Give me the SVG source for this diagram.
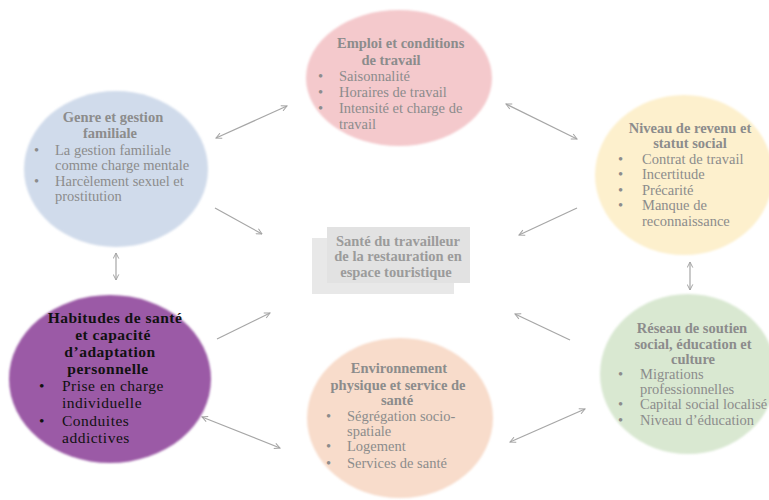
<svg xmlns="http://www.w3.org/2000/svg" width="769" height="500" viewBox="0 0 769 500">
<defs>
<marker id="ah" viewBox="0 0 10 10" refX="9" refY="5" markerWidth="7" markerHeight="7" markerUnits="userSpaceOnUse" orient="auto-start-reverse">
<path d="M1,1 L9,5 L1,9" fill="none" stroke="#a3a3a3" stroke-width="1.4"/>
</marker>
<filter id="soft" x="-10%" y="-10%" width="120%" height="120%"><feGaussianBlur stdDeviation="0.8"/></filter>
</defs>
<style>
.t{font-family:"Liberation Serif","Times New Roman",serif;font-size:14.5px;fill:#8c8c8c}
.h{font-weight:bold}
.p{font-family:"Liberation Serif","Times New Roman",serif;font-size:15.5px;letter-spacing:0.5px;fill:#111}
.c{font-family:"Liberation Serif","Times New Roman",serif;font-size:14.5px;font-weight:bold;fill:#9b9b9b}
.m{text-anchor:middle}
.ln{stroke:#a6a6a6;stroke-width:1.2;fill:none;marker-start:url(#ah);marker-end:url(#ah)}
.one{stroke:#a6a6a6;stroke-width:1.2;fill:none;marker-end:url(#ah)}
</style>
<rect width="769" height="500" fill="#fff"/>

<g id="connectors">
<line class="ln" x1="216" y1="138" x2="287" y2="106"/>
<line class="one" x1="215" y1="208" x2="262" y2="234"/>
<line class="one" x1="217" y1="339" x2="270" y2="313"/>
<line class="ln" x1="506" y1="104" x2="577" y2="139"/>
<line class="one" x1="577" y1="208" x2="519" y2="235"/>
<line class="one" x1="570" y1="340" x2="515" y2="314"/>
<line class="ln" x1="202" y1="417" x2="280" y2="448"/>
<line class="ln" x1="510" y1="442" x2="585" y2="409"/>
<line class="ln" x1="116" y1="253" x2="116" y2="280"/>
<line class="ln" x1="690" y1="262" x2="690" y2="290"/>
</g>

<g id="emploi">
<ellipse cx="399" cy="78" rx="93" ry="68" fill="#f4c9cc" filter="url(#soft)"/>
<text class="t h" x="337" y="48">Emploi et conditions</text>
<text class="t h m" x="391" y="65">de travail</text>
<text class="t" x="318" y="81">•</text><text class="t" x="339" y="81">Saisonnalité</text>
<text class="t" x="318" y="97">•</text><text class="t" x="339" y="97">Horaires de travail</text>
<text class="t" x="318" y="113">•</text><text class="t" x="339" y="113">Intensité et charge de</text>
<text class="t" x="339" y="129">travail</text>
</g>

<g id="genre">
<ellipse cx="116" cy="169" rx="92" ry="78" fill="#d0dbeb" filter="url(#soft)"/>
<text class="t h m" x="113" y="122">Genre et gestion</text>
<text class="t h m" x="110" y="138">familiale</text>
<text class="t" x="34" y="155">•</text><text class="t" x="55" y="155">La gestion familiale</text>
<text class="t" x="55" y="170">comme charge mentale</text>
<text class="t" x="34" y="186">•</text><text class="t" x="55" y="186">Harcèlement sexuel et</text>
<text class="t" x="55" y="201">prostitution</text>
</g>

<g id="niveau">
<ellipse cx="684" cy="175" rx="89" ry="80" fill="#fdf0cd" filter="url(#soft)"/>
<text class="t h m" x="690" y="133">Niveau de revenu et</text>
<text class="t h m" x="690" y="148">statut social</text>
<text class="t" x="618" y="164">•</text><text class="t" x="642" y="164">Contrat de travail</text>
<text class="t" x="618" y="179">•</text><text class="t" x="642" y="179">Incertitude</text>
<text class="t" x="618" y="195">•</text><text class="t" x="642" y="195">Précarité</text>
<text class="t" x="618" y="210">•</text><text class="t" x="642" y="210">Manque de</text>
<text class="t" x="642" y="226">reconnaissance</text>
</g>

<g id="centre">
<rect x="312" y="238" width="142" height="56" fill="#e8e8e8"/>
<rect x="327" y="227" width="143" height="56" fill="#e2e2e2"/>
<text class="c m" x="398" y="246">Santé du travailleur</text>
<text class="c m" x="398" y="261">de la restauration en</text>
<text class="c m" x="396" y="277">espace touristique</text>
</g>

<g id="habitudes">
<ellipse cx="110" cy="379" rx="101" ry="84" fill="#9b5aa6" filter="url(#soft)"/>
<text class="p h m" x="115" y="323">Habitudes de santé</text>
<text class="p h m" x="113" y="340">et capacité</text>
<text class="p h m" x="110" y="357">d’adaptation</text>
<text class="p h m" x="108" y="374">personnelle</text>
<text class="p" x="39" y="391">•</text><text class="p" x="62" y="391">Prise en charge</text>
<text class="p" x="62" y="408">individuelle</text>
<text class="p" x="39" y="426">•</text><text class="p" x="62" y="426">Conduites</text>
<text class="p" x="62" y="443">addictives</text>
</g>

<g id="environnement">
<ellipse cx="400" cy="418" rx="93" ry="80" fill="#f8dccb" filter="url(#soft)"/>
<text class="t h m" x="399" y="373">Environnement</text>
<text class="t h m" x="398" y="390">physique et service de</text>
<text class="t h m" x="397" y="405">santé</text>
<text class="t" x="326" y="421">•</text><text class="t" x="347" y="421">Ségrégation socio-</text>
<text class="t" x="347" y="436">spatiale</text>
<text class="t" x="326" y="451">•</text><text class="t" x="347" y="451">Logement</text>
<text class="t" x="326" y="468">•</text><text class="t" x="347" y="468">Services de santé</text>
</g>

<g id="reseau">
<ellipse cx="688" cy="374" rx="88" ry="80" fill="#d9e8d1" filter="url(#soft)"/>
<text class="t h m" x="692" y="333">Réseau de soutien</text>
<text class="t h m" x="693" y="349">social, éducation et</text>
<text class="t h m" x="693" y="364">culture</text>
<text class="t" x="618" y="379">•</text><text class="t" x="640" y="379">Migrations</text>
<text class="t" x="640" y="394">professionnelles</text>
<text class="t" x="618" y="409">•</text><text class="t" x="640" y="409">Capital social localisé</text>
<text class="t" x="618" y="425">•</text><text class="t" x="640" y="425">Niveau d’éducation</text>
</g>
</svg>
